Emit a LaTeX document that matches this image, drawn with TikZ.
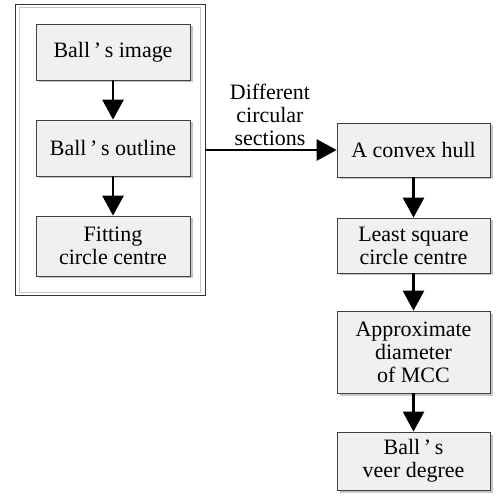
\documentclass[tikz,border=0pt]{standalone}
\usepackage{fontspec}
\setmainfont{Liberation Serif}
\newfontfamily\boxfont{Liberation Serif}
\usetikzlibrary{arrows.meta,shadows}

\tikzset{
  stepbox/.style={draw=black!75, fill=gray!12, align=center, inner sep=1pt,
    drop shadow={shadow xshift=0.05cm, shadow yshift=-0.05cm, fill=gray!45, opacity=1},
    font=\boxfont\fontsize{12.5}{13}\selectfont},
  flow/.style={line width=1.5pt, -{Triangle[length=0.4cm,width=0.42cm]}}
}

\begin{document}
\begin{tikzpicture}
\useasboundingbox (0,0) rectangle (10.08,9.9);
% left group frame
\node[draw=black!80, minimum width=3.8cm, minimum height=5.82cm, inner sep=0pt] (frame) at (2.2,6.91) {};
\node[draw=gray!45, minimum width=3.62cm, minimum height=5.7cm, inner sep=0pt] (inframe) at (2.19,6.91) {};
% left column
\node[stepbox, minimum width=3.08cm, minimum height=1.12cm] (image) at (2.26,8.86) {Ball\,’\,s image};
\node[stepbox, minimum width=3.08cm, minimum height=1.12cm] (outline) at (2.26,6.94) {Ball\,’\,s outline};
\node[stepbox, minimum width=3.08cm, minimum height=1.2cm] (fitting) at (2.26,4.98) {Fitting\\circle centre};
\draw[flow] (image) -- (outline);
\draw[flow] (outline) -- (fitting);
% right column
\node[stepbox, minimum width=3.06cm, minimum height=1.08cm] (hull) at (8.27,6.9) {A convex hull};
\node[stepbox, minimum width=3.06cm, minimum height=1.1cm] (lsq) at (8.27,4.99) {Least square\\circle centre};
\node[stepbox, minimum width=3.06cm, minimum height=1.64cm] (mcc) at (8.27,2.86) {Approximate\\diameter\\of MCC};
\node[stepbox, minimum width=3.06cm, minimum height=1.16cm] (veer) at (8.27,0.68) {Ball\,’\,s\\veer degree};
\draw[flow] (hull) -- (lsq);
\draw[flow] (lsq) -- (mcc);
\draw[flow] (mcc) -- (veer);
% link between groups
\draw[flow] (frame.east |- hull) -- (hull);
\node[align=center, font=\boxfont\fontsize{12.5}{13}\selectfont] (sections) at (5.4,7.6) {Different\\circular\\sections};
\end{tikzpicture}
\end{document}
